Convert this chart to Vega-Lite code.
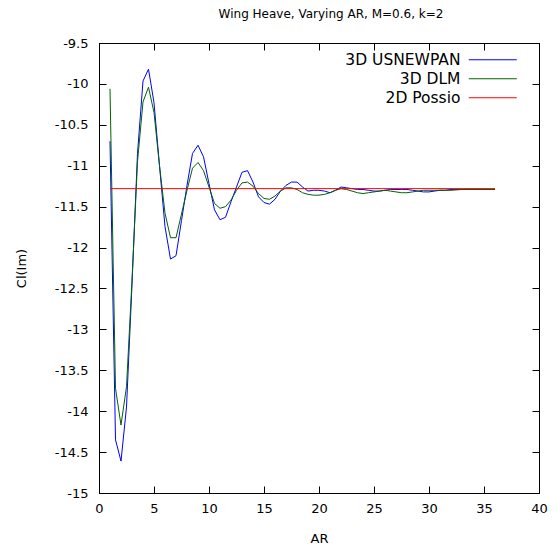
{
  "$schema": "https://vega.github.io/schema/vega-lite/v6.json",
  "width": 440,
  "height": 450,
  "autosize": {"type": "none"},
  "padding": {"left": 99, "top": 43, "right": 18, "bottom": 59},
  "background": "white",
  "title": {"text": "Wing Heave, Varying AR, M=0.6, k=2", "font": "DejaVu Sans", "fontSize": 12, "fontWeight": "normal", "color": "black", "anchor": "middle", "dx": 12, "offset": 16},
  "config": {
    "view": {"stroke": "black", "strokeWidth": 1},
    "axis": {"grid": false, "domainColor": "black", "tickColor": "black", "labelColor": "black", "titleColor": "black", "labelFont": "DejaVu Sans", "titleFont": "DejaVu Sans", "labelFontSize": 13, "titleFontSize": 13, "titleFontWeight": "normal", "tickSize": -7, "tickWidth": 1, "domainWidth": 1, "labelFlush": false}
  },
  "data": {"values": [
    {"AR": 1, "Cl": -10.70, "s": "3D USNEWPAN"},
    {"AR": 1.5, "Cl": -14.35, "s": "3D USNEWPAN"},
    {"AR": 2, "Cl": -14.61, "s": "3D USNEWPAN"},
    {"AR": 2.5, "Cl": -13.95, "s": "3D USNEWPAN"},
    {"AR": 3, "Cl": -12.45, "s": "3D USNEWPAN"},
    {"AR": 3.5, "Cl": -10.85, "s": "3D USNEWPAN"},
    {"AR": 4, "Cl": -9.965, "s": "3D USNEWPAN"},
    {"AR": 4.5, "Cl": -9.82, "s": "3D USNEWPAN"},
    {"AR": 5, "Cl": -10.23, "s": "3D USNEWPAN"},
    {"AR": 5.5, "Cl": -11.00, "s": "3D USNEWPAN"},
    {"AR": 6, "Cl": -11.745, "s": "3D USNEWPAN"},
    {"AR": 6.5, "Cl": -12.14, "s": "3D USNEWPAN"},
    {"AR": 7, "Cl": -12.10, "s": "3D USNEWPAN"},
    {"AR": 7.5, "Cl": -11.67, "s": "3D USNEWPAN"},
    {"AR": 8, "Cl": -11.24, "s": "3D USNEWPAN"},
    {"AR": 8.5, "Cl": -10.85, "s": "3D USNEWPAN"},
    {"AR": 9, "Cl": -10.75, "s": "3D USNEWPAN"},
    {"AR": 9.5, "Cl": -10.89, "s": "3D USNEWPAN"},
    {"AR": 10, "Cl": -11.22, "s": "3D USNEWPAN"},
    {"AR": 10.5, "Cl": -11.54, "s": "3D USNEWPAN"},
    {"AR": 11, "Cl": -11.66, "s": "3D USNEWPAN"},
    {"AR": 11.5, "Cl": -11.63, "s": "3D USNEWPAN"},
    {"AR": 12, "Cl": -11.44, "s": "3D USNEWPAN"},
    {"AR": 12.5, "Cl": -11.26, "s": "3D USNEWPAN"},
    {"AR": 13, "Cl": -11.08, "s": "3D USNEWPAN"},
    {"AR": 13.5, "Cl": -11.06, "s": "3D USNEWPAN"},
    {"AR": 14, "Cl": -11.20, "s": "3D USNEWPAN"},
    {"AR": 14.5, "Cl": -11.38, "s": "3D USNEWPAN"},
    {"AR": 15, "Cl": -11.45, "s": "3D USNEWPAN"},
    {"AR": 15.5, "Cl": -11.47, "s": "3D USNEWPAN"},
    {"AR": 16, "Cl": -11.41, "s": "3D USNEWPAN"},
    {"AR": 16.5, "Cl": -11.31, "s": "3D USNEWPAN"},
    {"AR": 17, "Cl": -11.24, "s": "3D USNEWPAN"},
    {"AR": 17.5, "Cl": -11.20, "s": "3D USNEWPAN"},
    {"AR": 18, "Cl": -11.20, "s": "3D USNEWPAN"},
    {"AR": 18.5, "Cl": -11.26, "s": "3D USNEWPAN"},
    {"AR": 19, "Cl": -11.31, "s": "3D USNEWPAN"},
    {"AR": 19.5, "Cl": -11.30, "s": "3D USNEWPAN"},
    {"AR": 20, "Cl": -11.30, "s": "3D USNEWPAN"},
    {"AR": 20.5, "Cl": -11.31, "s": "3D USNEWPAN"},
    {"AR": 21, "Cl": -11.33, "s": "3D USNEWPAN"},
    {"AR": 21.5, "Cl": -11.30, "s": "3D USNEWPAN"},
    {"AR": 22, "Cl": -11.26, "s": "3D USNEWPAN"},
    {"AR": 22.5, "Cl": -11.27, "s": "3D USNEWPAN"},
    {"AR": 23, "Cl": -11.28, "s": "3D USNEWPAN"},
    {"AR": 23.5, "Cl": -11.29, "s": "3D USNEWPAN"},
    {"AR": 24, "Cl": -11.29, "s": "3D USNEWPAN"},
    {"AR": 24.5, "Cl": -11.30, "s": "3D USNEWPAN"},
    {"AR": 25, "Cl": -11.31, "s": "3D USNEWPAN"},
    {"AR": 25.5, "Cl": -11.31, "s": "3D USNEWPAN"},
    {"AR": 26, "Cl": -11.30, "s": "3D USNEWPAN"},
    {"AR": 26.5, "Cl": -11.29, "s": "3D USNEWPAN"},
    {"AR": 27, "Cl": -11.29, "s": "3D USNEWPAN"},
    {"AR": 27.5, "Cl": -11.29, "s": "3D USNEWPAN"},
    {"AR": 28, "Cl": -11.29, "s": "3D USNEWPAN"},
    {"AR": 28.5, "Cl": -11.30, "s": "3D USNEWPAN"},
    {"AR": 29, "Cl": -11.31, "s": "3D USNEWPAN"},
    {"AR": 29.5, "Cl": -11.32, "s": "3D USNEWPAN"},
    {"AR": 30, "Cl": -11.32, "s": "3D USNEWPAN"},
    {"AR": 30.5, "Cl": -11.31, "s": "3D USNEWPAN"},
    {"AR": 31, "Cl": -11.30, "s": "3D USNEWPAN"},
    {"AR": 31.5, "Cl": -11.30, "s": "3D USNEWPAN"},
    {"AR": 32, "Cl": -11.29, "s": "3D USNEWPAN"},
    {"AR": 33, "Cl": -11.29, "s": "3D USNEWPAN"},
    {"AR": 34, "Cl": -11.29, "s": "3D USNEWPAN"},
    {"AR": 35, "Cl": -11.29, "s": "3D USNEWPAN"},
    {"AR": 36, "Cl": -11.29, "s": "3D USNEWPAN"},
    {"AR": 1, "Cl": -10.06, "s": "3D DLM"},
    {"AR": 1.5, "Cl": -13.72, "s": "3D DLM"},
    {"AR": 2, "Cl": -14.17, "s": "3D DLM"},
    {"AR": 2.5, "Cl": -13.70, "s": "3D DLM"},
    {"AR": 3, "Cl": -12.40, "s": "3D DLM"},
    {"AR": 3.5, "Cl": -10.95, "s": "3D DLM"},
    {"AR": 4, "Cl": -10.22, "s": "3D DLM"},
    {"AR": 4.5, "Cl": -10.04, "s": "3D DLM"},
    {"AR": 5, "Cl": -10.35, "s": "3D DLM"},
    {"AR": 5.5, "Cl": -11.00, "s": "3D DLM"},
    {"AR": 6, "Cl": -11.58, "s": "3D DLM"},
    {"AR": 6.5, "Cl": -11.88, "s": "3D DLM"},
    {"AR": 7, "Cl": -11.88, "s": "3D DLM"},
    {"AR": 7.5, "Cl": -11.59, "s": "3D DLM"},
    {"AR": 8, "Cl": -11.30, "s": "3D DLM"},
    {"AR": 8.5, "Cl": -11.03, "s": "3D DLM"},
    {"AR": 9, "Cl": -10.96, "s": "3D DLM"},
    {"AR": 9.5, "Cl": -11.06, "s": "3D DLM"},
    {"AR": 10, "Cl": -11.26, "s": "3D DLM"},
    {"AR": 10.5, "Cl": -11.46, "s": "3D DLM"},
    {"AR": 11, "Cl": -11.52, "s": "3D DLM"},
    {"AR": 11.5, "Cl": -11.50, "s": "3D DLM"},
    {"AR": 12, "Cl": -11.42, "s": "3D DLM"},
    {"AR": 12.5, "Cl": -11.30, "s": "3D DLM"},
    {"AR": 13, "Cl": -11.21, "s": "3D DLM"},
    {"AR": 13.5, "Cl": -11.20, "s": "3D DLM"},
    {"AR": 14, "Cl": -11.25, "s": "3D DLM"},
    {"AR": 14.5, "Cl": -11.34, "s": "3D DLM"},
    {"AR": 15, "Cl": -11.40, "s": "3D DLM"},
    {"AR": 15.5, "Cl": -11.41, "s": "3D DLM"},
    {"AR": 16, "Cl": -11.37, "s": "3D DLM"},
    {"AR": 16.5, "Cl": -11.31, "s": "3D DLM"},
    {"AR": 17, "Cl": -11.27, "s": "3D DLM"},
    {"AR": 17.5, "Cl": -11.27, "s": "3D DLM"},
    {"AR": 18, "Cl": -11.29, "s": "3D DLM"},
    {"AR": 18.5, "Cl": -11.33, "s": "3D DLM"},
    {"AR": 19, "Cl": -11.35, "s": "3D DLM"},
    {"AR": 19.5, "Cl": -11.36, "s": "3D DLM"},
    {"AR": 20, "Cl": -11.36, "s": "3D DLM"},
    {"AR": 20.5, "Cl": -11.35, "s": "3D DLM"},
    {"AR": 21, "Cl": -11.33, "s": "3D DLM"},
    {"AR": 21.5, "Cl": -11.30, "s": "3D DLM"},
    {"AR": 22, "Cl": -11.28, "s": "3D DLM"},
    {"AR": 22.5, "Cl": -11.29, "s": "3D DLM"},
    {"AR": 23, "Cl": -11.31, "s": "3D DLM"},
    {"AR": 23.5, "Cl": -11.33, "s": "3D DLM"},
    {"AR": 24, "Cl": -11.34, "s": "3D DLM"},
    {"AR": 24.5, "Cl": -11.33, "s": "3D DLM"},
    {"AR": 25, "Cl": -11.32, "s": "3D DLM"},
    {"AR": 25.5, "Cl": -11.31, "s": "3D DLM"},
    {"AR": 26, "Cl": -11.30, "s": "3D DLM"},
    {"AR": 26.5, "Cl": -11.31, "s": "3D DLM"},
    {"AR": 27, "Cl": -11.32, "s": "3D DLM"},
    {"AR": 27.5, "Cl": -11.33, "s": "3D DLM"},
    {"AR": 28, "Cl": -11.33, "s": "3D DLM"},
    {"AR": 28.5, "Cl": -11.32, "s": "3D DLM"},
    {"AR": 29, "Cl": -11.31, "s": "3D DLM"},
    {"AR": 29.5, "Cl": -11.30, "s": "3D DLM"},
    {"AR": 30, "Cl": -11.30, "s": "3D DLM"},
    {"AR": 31, "Cl": -11.30, "s": "3D DLM"},
    {"AR": 32, "Cl": -11.30, "s": "3D DLM"},
    {"AR": 33, "Cl": -11.29, "s": "3D DLM"},
    {"AR": 34, "Cl": -11.29, "s": "3D DLM"},
    {"AR": 35, "Cl": -11.29, "s": "3D DLM"},
    {"AR": 36, "Cl": -11.29, "s": "3D DLM"},
    {"AR": 1, "Cl": -11.28, "s": "2D Possio"},
    {"AR": 36, "Cl": -11.28, "s": "2D Possio"}
  ]},
  "layer": [
    {
      "mark": {"type": "line", "strokeWidth": 1, "clip": true},
      "encoding": {
        "x": {"field": "AR", "type": "quantitative", "title": "AR",
          "scale": {"domain": [0, 40], "nice": false, "zero": false},
          "axis": {"orient": "bottom", "values": [0, 5, 10, 15, 20, 25, 30, 35, 40], "labelPadding": 16, "titlePadding": 17, "labelExpr": "toString(datum.value)"}},
        "y": {"field": "Cl", "type": "quantitative", "title": "Cl(Im)",
          "scale": {"domain": [-15, -9.5], "nice": false, "zero": false},
          "axis": {"orient": "left", "values": [-15, -14.5, -14, -13.5, -13, -12.5, -12, -11.5, -11, -10.5, -10, -9.5], "labelPadding": 18, "titlePadding": 26, "labelExpr": "toString(datum.value)"}},
        "color": {"field": "s", "type": "nominal",
          "scale": {"domain": ["3D USNEWPAN", "3D DLM", "2D Possio"], "range": ["#0000ff", "#006400", "#ff0000"]},
          "legend": {"orient": "none", "legendX": 386, "legendY": 9, "title": null, "symbolType": "M-4,0H4", "symbolSize": 144, "symbolStrokeWidth": 1, "symbolFillColor": "transparent", "rowPadding": 2, "labelAlign": "right", "labelOffset": -40, "labelFont": "DejaVu Sans", "labelFontSize": 15.5, "labelColor": "black", "padding": 0, "labelLimit": 300}}
      }
    },
    {
      "mark": {"type": "point", "opacity": 0},
      "encoding": {
        "x": {"field": "AR", "type": "quantitative",
          "axis": {"orient": "top", "values": [0, 5, 10, 15, 20, 25, 30, 35, 40], "labels": false, "title": null}},
        "y": {"field": "Cl", "type": "quantitative",
          "axis": {"orient": "right", "values": [-15, -14.5, -14, -13.5, -13, -12.5, -12, -11.5, -11, -10.5, -10, -9.5], "labels": false, "title": null}}
      }
    }
  ],
  "resolve": {"axis": {"x": "independent", "y": "independent"}}
}
